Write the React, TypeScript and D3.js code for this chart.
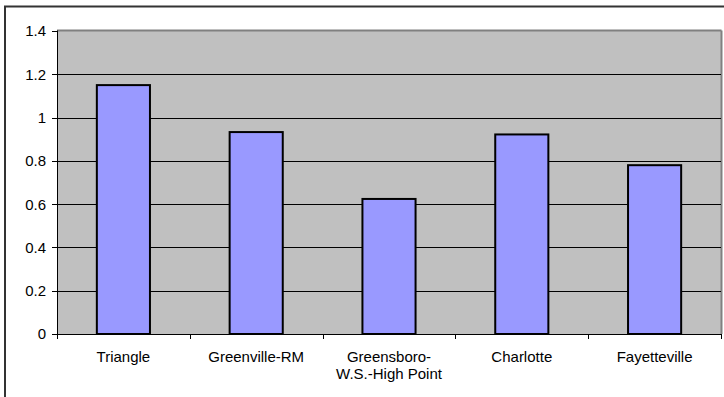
import React from "react";
import * as d3 from "d3";

const categories: string[][] = [
  ["Triangle"],
  ["Greenville-RM"],
  ["Greensboro-", "W.S.-High Point"],
  ["Charlotte"],
  ["Fayetteville"],
];
const values: number[] = [1.15, 0.933, 0.624, 0.922, 0.78];
const yTicks: number[] = [0, 0.2, 0.4, 0.6, 0.8, 1, 1.2, 1.4];

const W = 724;
const H = 397;
const left = 57;
const right = 721;
const top = 31;
const bottom = 334;

export default function App() {
  const keys = categories.map((_, i) => String(i));
  const x = d3.scaleBand<string>().domain(keys).range([left, right]).padding(0);
  const y = d3.scaleLinear().domain([0, 1.4]).range([bottom, top]);
  const step = x.step();
  const font = "Arial, 'Liberation Sans', sans-serif";

  return (
    <svg
      width={W}
      height={H}
      style={{ position: "absolute", left: 0, top: 0, background: "#fff" }}
    >
      <rect x={5} y={6.5} width={W + 10} height={H + 10} fill="#fff" stroke="#333" strokeWidth={2} />
      <rect x={left} y={top} width={right - left} height={bottom - top} fill="#C0C0C0" />
      <line x1={left} x2={right + 0.5} y1={top - 0.5} y2={top - 0.5} stroke="#808080" strokeWidth={2} />
      <line x1={right + 0.5} x2={right + 0.5} y1={top - 0.5} y2={bottom} stroke="#808080" strokeWidth={2} />
      {yTicks.filter((t) => t > 0 && t < 1.4).map((t) => (
        <line key={"g" + t} x1={left} x2={right} y1={Math.round(y(t)) + 0.5} y2={Math.round(y(t)) + 0.5} stroke="#000" strokeWidth={1} />
      ))}
      {values.map((v, i) => {
        const bx = (x(String(i)) as number) + step * 0.3;
        const bw = step * 0.4;
        return (
          <rect
            key={"b" + i}
            x={bx}
            y={y(v)}
            width={bw}
            height={bottom - y(v)}
            fill="#9999FF"
            stroke="#000"
            strokeWidth={2}
          />
        );
      })}
      <line x1={left + 0.5} x2={left + 0.5} y1={top - 0.5} y2={bottom + 0.5} stroke="#000" strokeWidth={1} />
      <line x1={left} x2={right + 1} y1={bottom + 0.5} y2={bottom + 0.5} stroke="#000" strokeWidth={1} />
      {yTicks.map((t) => (
        <g key={"t" + t}>
          <line x1={left - 5} x2={left} y1={Math.round(y(t)) + 0.5} y2={Math.round(y(t)) + 0.5} stroke="#000" />
          <text
            x={46}
            y={y(t)}
            dy="0.36em"
            textAnchor="end"
            fontFamily={font}
            fontSize={15}
            fill="#000"
          >
            {String(t)}
          </text>
        </g>
      ))}
      {d3.range(categories.length + 1).map((i) => (
        <line
          key={"ct" + i}
          x1={Math.round(left + i * step) + 0.5}
          x2={Math.round(left + i * step) + 0.5}
          y1={bottom}
          y2={bottom + 5}
          stroke="#000"
        />
      ))}
      {categories.map((lines, i) => (
        <text
          key={"c" + i}
          x={(x(String(i)) as number) + step / 2}
          y={361.5}
          textAnchor="middle"
          fontFamily={font}
          fontSize={15}
          fill="#000"
        >
          {lines.map((l, j) => (
            <tspan key={j} x={(x(String(i)) as number) + step / 2} dy={j === 0 ? 0 : 17.6}>
              {l}
            </tspan>
          ))}
        </text>
      ))}
    </svg>
  );
}
